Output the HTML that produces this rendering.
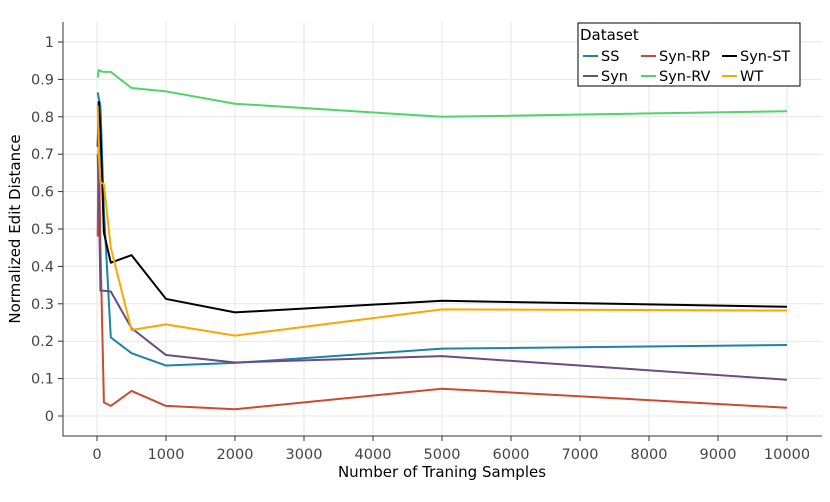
<!DOCTYPE html>
<html><head><meta charset="utf-8"><style>
body{margin:0;background:#fff;font-family:"DejaVu Sans",sans-serif}
svg text{font-family:"DejaVu Sans",sans-serif}
</style></head><body>
<svg id="chart" width="830" height="498"></svg>
<script>
const xs=[10,25,50,100,200,500,1000,2000,5000,10000];
const ssVals=[0.865,0.85,0.83,0.55,0.21,0.168,0.135,0.142,0.18,0.19];
const synRpVals=[0.48,0.75,0.45,0.036,0.027,0.067,0.027,0.018,0.073,0.022];
const synStVals=[0.72,0.84,0.765,0.49,0.41,0.43,0.313,0.277,0.308,0.292];
const synVals=[0.7,0.6,0.335,0.335,0.333,0.235,0.163,0.143,0.16,0.097];
const synRvVals=[0.905,0.925,0.922,0.92,0.92,0.877,0.868,0.835,0.80,0.815];
const wtVals=[0.83,0.7,0.625,0.62,0.45,0.23,0.245,0.215,0.285,0.282];
const xTicks=[0,1000,2000,3000,4000,5000,6000,7000,8000,9000,10000];
const yTicks=[0,0.1,0.2,0.3,0.4,0.5,0.6,0.7,0.8,0.9,1];
const series=[["SS",ssVals,"#1a84a6"],["Syn-RP",synRpVals,"#cc4a33"],["Syn-ST",synStVals,"#000000"],["Syn",synVals,"#6a4c7f"],["Syn-RV",synRvVals,"#4fd36a"],["WT",wtVals,"#f9a800"]];
const NS="http://www.w3.org/2000/svg";
const svg=document.getElementById('chart');
const X=v=>97+v*(787-97)/10000;
const Y=v=>416-v*374;
function el(t,a,p){const e=document.createElementNS(NS,t);for(const k in a)e.setAttribute(k,a[k]);(p||svg).appendChild(e);return e;}
for(const t of xTicks){
 const g=el('line',{x1:X(t),x2:X(t),y1:22,y2:436,stroke:'#e6e6e6','stroke-width':1});
 
 
 const tk=el('line',{x1:X(t),x2:X(t),y1:436,y2:441,stroke:'#333'});
 
 
 const tx=el('text',{x:X(t),y:459,'text-anchor':'middle','font-size':14.5,fill:'#444'});
 tx.textContent=t;
 
 
}
for(const t of yTicks){
 const g=el('line',{x1:63,x2:822,y1:Y(t),y2:Y(t),stroke:'#e6e6e6','stroke-width':1});
 
 
 const tk=el('line',{x1:58,x2:63,y1:Y(t),y2:Y(t),stroke:'#333'});
 
 
 const tx=el('text',{x:54,y:Y(t)+5,'text-anchor':'end','font-size':14.5,fill:'#444'});
 tx.textContent=String(t);
 
 
}
const ax=el('path',{d:'M63 22V436H822',fill:'none',stroke:'#333','stroke-width':1});


for(const [n,vals,c] of series){
 const p=el('polyline',{points:xs.map((x,i)=>X(x)+','+Y(vals[i])).join(' '),fill:'none',stroke:c,'stroke-width':2,'stroke-linejoin':'round'});
 
 
}
const xt=el('text',{x:442,y:477,'text-anchor':'middle','font-size':15,fill:'#000'});
xt.textContent='Number of Traning Samples';


const yt=el('text',{x:0,y:0,transform:'translate(20,229) rotate(-90)','text-anchor':'middle','font-size':15,fill:'#000'});
yt.textContent='Normalized Edit Distance';


const lg=el('g',{});


el('rect',{x:578,y:23,width:222,height:63,fill:'#fff',stroke:'#000','stroke-width':1},lg);
const lt=el('text',{x:580,y:40,'font-size':15,fill:'#000'},lg);
lt.textContent='Dataset';


const pos=[[583,61],[641,61],[722,61],[583,81],[641,81],[722,81]];
series.forEach(([n,,c],i)=>{
 const [px,py]=pos[i];
 const g=el('g',{},lg);
 
 
 el('line',{x1:px,x2:px+15,y1:py-5,y2:py-5,stroke:c,'stroke-width':2},g);
 const t=el('text',{x:px+18,y:py,'font-size':14.5,fill:'#000'},g);
 t.textContent=n;
});
</script>
</body></html>
